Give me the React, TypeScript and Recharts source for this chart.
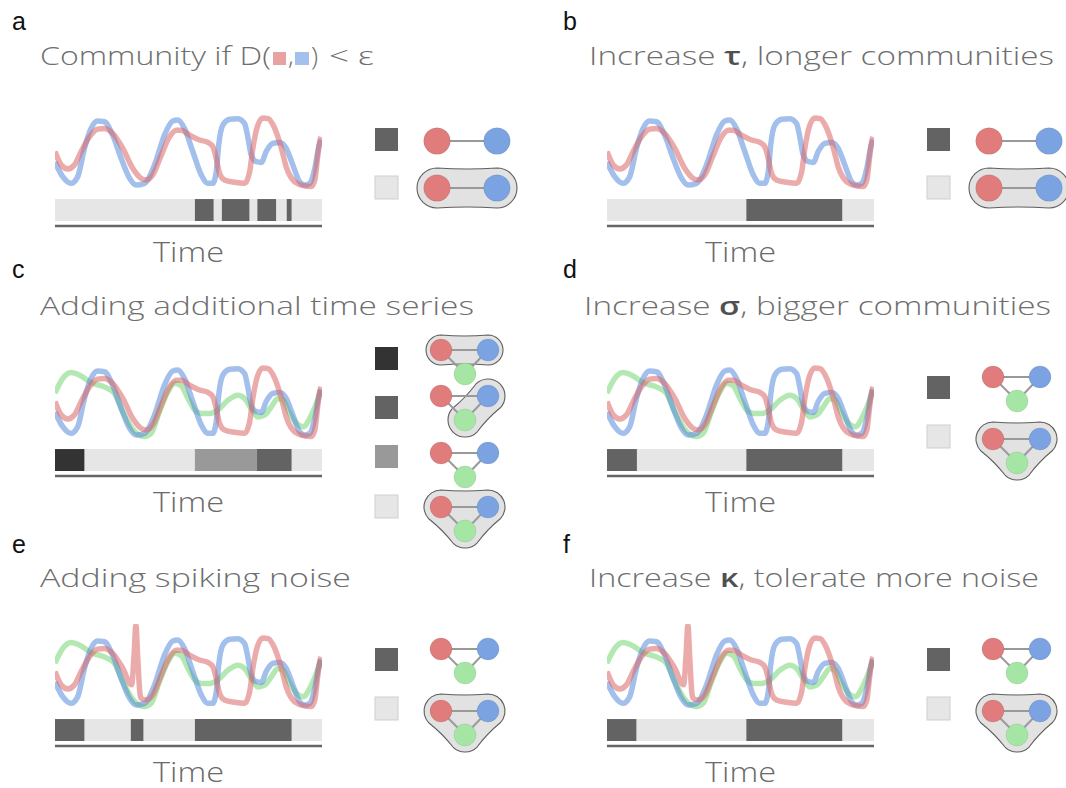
import React from 'react';
import { ComposedChart, Line, XAxis, YAxis, ReferenceArea } from 'recharts';

type Pt = { t: number; v: number };
type Seg = { from: number; to: number; state: number };

// signal traces, time on 0..100
const blueSeries: Pt[] = [
  { t: 0, v: 40 }, { t: 2.9, v: 19 }, { t: 6, v: 9.5 }, { t: 8.5, v: 19 }, { t: 11, v: 59 },
  { t: 13.5, v: 88 }, { t: 16, v: 98.5 }, { t: 18.5, v: 97.5 }, { t: 21.6, v: 78.5 }, { t: 24.8, v: 45 },
  { t: 27.9, v: 17 }, { t: 30.4, v: 7 }, { t: 33.5, v: 9.5 }, { t: 37.3, v: 36 }, { t: 41, v: 78.5 },
  { t: 44.1, v: 98.5 }, { t: 46, v: 100 }, { t: 48.5, v: 88 }, { t: 51.6, v: 55 }, { t: 54.8, v: 21.5 },
  { t: 57.3, v: 9.5 }, { t: 59.1, v: 9.5 }, { t: 60.4, v: 26 }, { t: 61.3, v: 64 }, { t: 62.9, v: 93 },
  { t: 65.4, v: 101 }, { t: 68.5, v: 102 }, { t: 71, v: 95 }, { t: 72.3, v: 74 }, { t: 73.5, v: 50 },
  { t: 75.4, v: 40.5 }, { t: 77.3, v: 39.5 }, { t: 79.1, v: 55 }, { t: 81.6, v: 66.5 }, { t: 84.1, v: 68 },
  { t: 86.6, v: 59.5 }, { t: 89.1, v: 35.5 }, { t: 91.6, v: 12 }, { t: 93.5, v: 7 }, { t: 95.4, v: 9.5 },
  { t: 97.3, v: 31 }, { t: 98.8, v: 62 }, { t: 99.6, v: 72 },
];

const redSeries: Pt[] = [
  { t: 0, v: 55 }, { t: 2.3, v: 36 }, { t: 4.8, v: 30 }, { t: 7.3, v: 36 }, { t: 9.8, v: 55 },
  { t: 12.9, v: 76 }, { t: 16, v: 87 }, { t: 18.5, v: 88 }, { t: 21.6, v: 81 }, { t: 25.4, v: 59.5 },
  { t: 29.1, v: 31 }, { t: 32.3, v: 16.5 }, { t: 34.1, v: 14.3 }, { t: 36.6, v: 21.5 }, { t: 39.8, v: 50 },
  { t: 42.9, v: 76 }, { t: 45.4, v: 85.5 }, { t: 47.3, v: 85.5 }, { t: 50.4, v: 78.5 }, { t: 54.1, v: 71.5 },
  { t: 57.3, v: 68 }, { t: 59.1, v: 62 }, { t: 60.4, v: 45 }, { t: 61.6, v: 24 }, { t: 63.5, v: 14.3 },
  { t: 67.3, v: 11 }, { t: 71, v: 9.5 }, { t: 72.9, v: 26 }, { t: 74.1, v: 59.5 }, { t: 76, v: 93 },
  { t: 77.9, v: 103 }, { t: 79.8, v: 102 }, { t: 82.3, v: 88 }, { t: 84.8, v: 59.5 }, { t: 86.6, v: 33 },
  { t: 89.1, v: 14.3 }, { t: 92.3, v: 7 }, { t: 96, v: 5 }, { t: 97.3, v: 14.3 }, { t: 98.3, v: 45 },
  { t: 99, v: 66 }, { t: 99.6, v: 76 },
];

const greenSeries: Pt[] = [
  { t: 0, v: 67 }, { t: 2.9, v: 88 }, { t: 6, v: 96.5 }, { t: 9.1, v: 93 }, { t: 13.5, v: 82 },
  { t: 18.5, v: 76 }, { t: 22.3, v: 66.5 }, { t: 25.4, v: 40.5 }, { t: 29.1, v: 15.5 }, { t: 33.5, v: 5 },
  { t: 36, v: 9.5 }, { t: 39.1, v: 40.5 }, { t: 42.3, v: 69 }, { t: 44.8, v: 81 }, { t: 47.3, v: 77.5 },
  { t: 49.8, v: 59.5 }, { t: 52.3, v: 43 }, { t: 54.8, v: 38 }, { t: 57.9, v: 38 }, { t: 61, v: 43 },
  { t: 64.8, v: 57 }, { t: 68.5, v: 64 }, { t: 71, v: 59.5 }, { t: 73.5, v: 45 }, { t: 76, v: 33 },
  { t: 78.5, v: 35.5 }, { t: 81, v: 47.5 }, { t: 83.5, v: 59.5 }, { t: 85.4, v: 57 }, { t: 87.9, v: 38 },
  { t: 90.4, v: 24 }, { t: 92.9, v: 19 }, { t: 96, v: 35.5 }, { t: 98.8, v: 62 }, { t: 99.6, v: 72 },
];

// noise spike injected into the red trace
const redSpike: Pt[] = [
  { t: 28.7, v: 36 }, { t: 29.6, v: 78 }, { t: 30.3, v: 121 }, { t: 31.0, v: 74 }, { t: 31.8, v: 24 },
];

const redSpiked: Pt[] = [
  ...redSeries.filter((p) => p.t < 28.5),
  ...redSpike,
  ...redSeries.filter((p) => p.t > 31.9),
];

// community segments; state indexes the legend rows of each panel
const segA: Seg[] = [
  { from: 52.4, to: 59.4, state: 0 }, { from: 62.5, to: 72.8, state: 0 },
  { from: 75.8, to: 82.8, state: 0 }, { from: 86.8, to: 88.6, state: 0 },
];
const segB: Seg[] = [{ from: 52.2, to: 88.1, state: 0 }];
const segC: Seg[] = [
  { from: 0, to: 11, state: 0 }, { from: 52.4, to: 75.6, state: 2 }, { from: 75.6, to: 88.6, state: 1 },
];
const segD: Seg[] = [{ from: 0, to: 11.2, state: 0 }, { from: 52.2, to: 88.1, state: 0 }];
const segE: Seg[] = [
  { from: 0, to: 11, state: 0 }, { from: 28.4, to: 33.1, state: 0 }, { from: 52.4, to: 88.6, state: 0 },
];
const segF: Seg[] = [{ from: 0, to: 11, state: 0 }, { from: 52.2, to: 88.1, state: 0 }];

const titles = [
  'Community if D(',
  'Increase τ, longer communities',
  'Adding additional time series',
  'Increase σ, bigger communities',
  'Adding spiking noise',
  'Increase κ, tolerate more noise',
];
const letters = ['a', 'b', 'c', 'd', 'e', 'f'];

const RED = '#da6666';
const BLUE = '#588adc';
const GREEN = '#76d573';
const NODE = { r: '#e07c7c', b: '#7ca3e1', g: '#a6e6a4' };
const LIGHT = '#e6e6e6';
const TITLE_FONT = '"Open Sans", Lato, sans-serif';

const COL_X = [0, 552];
const ROW_Y = [0, 250, 520];

type LegendRow = { sq: number; shade: string; gy: number; hull: number[]; hullR?: number };

type Panel = {
  col: number;
  row: number;
  series: { data: Pt[]; color: string }[];
  segs: Seg[];
  graph: 'pair' | 'tri';
  legend: LegendRow[];
  titleX: number;
  titleW: number;
};

const pairLegend = (y0: number): LegendRow[] => [
  { sq: y0 + 128, shade: '#636363', gy: y0 + 141, hull: [] },
  { sq: y0 + 176, shade: LIGHT, gy: y0 + 188, hull: [0, 1], hullR: 20 },
];

const triLegend = (sq: number, gy: number, gy2: number): LegendRow[] => [
  { sq, shade: '#636363', gy, hull: [] },
  { sq: sq + 49, shade: LIGHT, gy: gy2, hull: [0, 1, 2], hullR: 17 },
];

const panels: Panel[] = [
  {
    col: 0, row: 0, graph: 'pair', segs: segA, legend: pairLegend(0), titleX: 40, titleW: 0,
    series: [{ data: blueSeries, color: BLUE }, { data: redSeries, color: RED }],
  },
  {
    col: 1, row: 0, graph: 'pair', segs: segB, legend: pairLegend(0), titleX: 589, titleW: 465,
    series: [{ data: blueSeries, color: BLUE }, { data: redSeries, color: RED }],
  },
  {
    col: 0, row: 1, graph: 'tri', segs: segC, titleX: 40, titleW: 434,
    legend: [
      { sq: 347, shade: '#333333', gy: 350, hull: [0, 1], hullR: 15 },
      { sq: 396, shade: '#636363', gy: 396, hull: [1, 2], hullR: 17 },
      { sq: 445, shade: '#999999', gy: 453, hull: [] },
      { sq: 495, shade: LIGHT, gy: 507, hull: [0, 1, 2], hullR: 17 },
    ],
    series: [{ data: greenSeries, color: GREEN }, { data: blueSeries, color: BLUE }, { data: redSeries, color: RED }],
  },
  {
    col: 1, row: 1, graph: 'tri', segs: segD, legend: triLegend(376, 377, 439), titleX: 584, titleW: 467,
    series: [{ data: greenSeries, color: GREEN }, { data: blueSeries, color: BLUE }, { data: redSeries, color: RED }],
  },
  {
    col: 0, row: 2, graph: 'tri', segs: segE, legend: triLegend(648, 649, 711), titleX: 40, titleW: 311,
    series: [{ data: greenSeries, color: GREEN }, { data: blueSeries, color: BLUE }, { data: redSpiked, color: RED }],
  },
  {
    col: 1, row: 2, graph: 'tri', segs: segF, legend: triLegend(648, 649, 711), titleX: 589, titleW: 450,
    series: [{ data: greenSeries, color: GREEN }, { data: blueSeries, color: BLUE }, { data: redSpiked, color: RED }],
  },
];

type P = { x: number; y: number };

// rounded outline around a group of nodes, edges pulled slightly inward
function hullPath(pts: P[], R: number, sag: number): string {
  const cx = pts.reduce((s, p) => s + p.x, 0) / pts.length;
  const cy = pts.reduce((s, p) => s + p.y, 0) / pts.length;
  const ord = [...pts].sort(
    (p, q) => Math.atan2(p.y - cy, p.x - cx) - Math.atan2(q.y - cy, q.x - cx)
  );
  const n = ord.length;
  let d = '';
  let first: P | null = null;
  for (let i = 0; i < n; i++) {
    const p = ord[i];
    const q = ord[(i + 1) % n];
    const dx = q.x - p.x;
    const dy = q.y - p.y;
    const L = Math.hypot(dx, dy);
    const nx = dy / L;
    const ny = -dx / L;
    const a = { x: p.x + nx * R, y: p.y + ny * R };
    const b = { x: q.x + nx * R, y: q.y + ny * R };
    const mx = (a.x + b.x) / 2 - nx * sag;
    const my = (a.y + b.y) / 2 - ny * sag;
    if (i === 0) {
      d += `M${a.x},${a.y}`;
      first = a;
    } else {
      d += ` A${R},${R} 0 0 1 ${a.x},${a.y}`;
    }
    d += ` Q${mx},${my} ${b.x},${b.y}`;
  }
  if (first) d += ` A${R},${R} 0 0 1 ${first.x},${first.y}`;
  return d + ' Z';
}

function GraphGlyph({ kind, x0, y, hull, hullR }: { kind: 'pair' | 'tri'; x0: number; y: number; hull: number[]; hullR?: number }) {
  const nodes =
    kind === 'pair'
      ? [
          { x: x0 - 4, y, c: NODE.r },
          { x: x0 + 56, y, c: NODE.b },
        ]
      : [
          { x: x0, y, c: NODE.r },
          { x: x0 + 47, y, c: NODE.b },
          { x: x0 + 24, y: y + 24, c: NODE.g },
        ];
  const r = kind === 'pair' ? 13.3 : 11;
  const edges = kind === 'pair' ? [[0, 1]] : [[0, 1], [0, 2], [1, 2]];
  return (
    <g>
      {hull.length > 0 && (
        <path
          d={hullPath(hull.map((i) => nodes[i]), hullR ?? 17, 2)}
          fill="#e2e2e2"
          stroke="#5f5f5f"
          strokeWidth={1.1}
        />
      )}
      {edges.map(([i, j]) => (
        <line key={`${i}${j}`} x1={nodes[i].x} y1={nodes[i].y} x2={nodes[j].x} y2={nodes[j].y} stroke="#999" strokeWidth={2} />
      ))}
      {nodes.map((nd, i) => (
        <circle key={i} cx={nd.x} cy={nd.y} r={r} fill={nd.c} stroke="rgba(0,0,0,0.1)" strokeWidth={0.8} />
      ))}
    </g>
  );
}

const TimeLabel = (props: any) => {
  const vb = props?.viewBox ?? {};
  const x = (vb.x ?? 55) + (vb.width ?? 267) / 2;
  const y = (vb.y ?? 136) + 35.5;
  return (
    <text x={x} y={y} textAnchor="middle" fontFamily={TITLE_FONT} fontWeight={300} fontSize={27} fill="#6a6a6a" textLength={71} lengthAdjust="spacingAndGlyphs">
      Time
    </text>
  );
};

function SignalChart({ panel }: { panel: Panel }) {
  const shades = panel.legend.map((l) => l.shade);
  return (
    <div style={{ position: 'absolute', left: COL_X[panel.col], top: 90 + ROW_Y[panel.row] }}>
      <ComposedChart width={340} height={190} margin={{ top: 14, right: 18, bottom: 14, left: 55 }}>
        <XAxis
          type="number"
          dataKey="t"
          domain={[0, 100]}
          allowDataOverflow
          tick={false}
          tickLine={false}
          axisLine={{ stroke: '#666', strokeWidth: 2.6 }}
          height={40}
          label={TimeLabel}
        />
        <YAxis hide type="number" domain={[-51.4, 122.9]} allowDataOverflow />
        <ReferenceArea x1={0} x2={100} y1={-44.3} y2={-12.9} fill={LIGHT} fillOpacity={1} stroke="none" />
        {panel.segs.map((s, i) => (
          <ReferenceArea key={i} x1={s.from} x2={s.to} y1={-44.3} y2={-12.9} fill={shades[s.state]} fillOpacity={1} stroke="none" />
        ))}
        {panel.series.map((s, i) => (
          <Line
            key={i}
            data={s.data}
            dataKey="v"
            type="monotone"
            stroke={s.color}
            strokeOpacity={0.55}
            strokeWidth={5.5}
            strokeLinejoin="round"
            dot={false}
            activeDot={false}
            isAnimationActive={false}
          />
        ))}
      </ComposedChart>
    </div>
  );
}

const titleStyle = {
  fontFamily: TITLE_FONT,
  fontWeight: 300,
  fontSize: 26,
  fill: '#6e6e6e',
};

function Title({ idx, panel }: { idx: number; panel: Panel }) {
  const y = [65, 315, 587][panel.row];
  const text = titles[idx];
  if (idx === 0) {
    return (
      <g>
        <text x={40} y={y} {...titleStyle} textLength={231} lengthAdjust="spacingAndGlyphs">{text}</text>
        <rect x={273} y={y - 13} width={13} height={13} fill="#e8a2a2" />
        <text x={288} y={y} {...titleStyle}>,</text>
        <rect x={295} y={y - 13} width={14} height={13} fill="#a4c0ec" />
        <text x={311} y={y} {...titleStyle}>)</text>
        <text x={329} y={y} {...titleStyle} textLength={45} lengthAdjust="spacingAndGlyphs">{'< ε'}</text>
      </g>
    );
  }
  const greek = text.match(/[τσκ]/);
  const gi = greek ? text.indexOf(greek[0]) : -1;
  return (
    <text x={panel.titleX} y={y} {...titleStyle} textLength={panel.titleW} lengthAdjust="spacingAndGlyphs">
      {gi >= 0 ? (
        <>
          {text.slice(0, gi)}
          <tspan fontWeight={600} fill="#505050">{text[gi]}</tspan>
          {text.slice(gi + 1)}
        </>
      ) : (
        text
      )}
    </text>
  );
}

export default function App() {
  return (
    <div style={{ position: 'absolute', left: 0, top: 0, width: 1066, height: 788, background: '#fff', overflow: 'hidden' }}>
      {panels.map((p, i) => (
        <SignalChart key={i} panel={p} />
      ))}
      <svg width={1066} height={788} style={{ position: 'absolute', left: 0, top: 0, pointerEvents: 'none' }}>
        {panels.map((p, i) => {
          const dx = COL_X[p.col];
          return (
            <g key={i}>
              <text x={12 + dx - (p.col ? 1 : 0)} y={[30, 278, 553][p.row]} fontFamily='"Liberation Sans", Arial, sans-serif' fontSize={25} fill="#111">
                {letters[i]}
              </text>
              <Title idx={i} panel={p} />
              {p.legend.map((l, j) => (
                <g key={j}>
                  <rect x={375 + dx} y={l.sq} width={23} height={23} fill={l.shade} stroke={l.shade === LIGHT ? '#cfcfcf' : 'none'} strokeWidth={1} />
                  <GraphGlyph kind={p.graph} x0={441 + dx} y={l.gy} hull={l.hull} hullR={l.hullR} />
                </g>
              ))}
            </g>
          );
        })}
      </svg>
    </div>
  );
}
